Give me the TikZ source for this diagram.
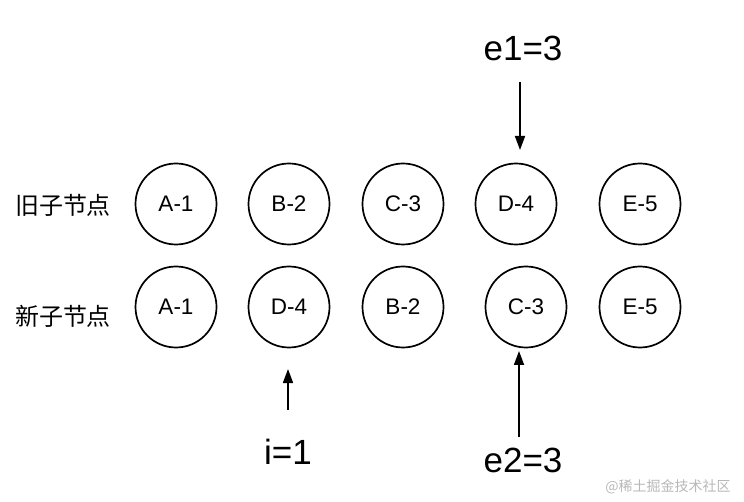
\documentclass[tikz,border=0pt]{standalone}
\usepackage{fontspec}
\setmainfont{Liberation Sans}
\newfontfamily\cjk{Noto Sans CJK SC}
\usetikzlibrary{arrows.meta}
\begin{document}
\begin{tikzpicture}[x=1pt,y=-1pt,
  nd/.style={circle,draw,line width=1.7pt,minimum size=81pt,inner sep=0pt,font=\fontsize{22.5}{22.5}\selectfont},
  lbl/.style={font=\fontsize{35}{35}\selectfont,inner sep=0pt},
  rowlbl/.style={font=\cjk\fontsize{24}{24}\selectfont,inner sep=0pt},
  arr/.style={line width=1.7pt,-{Triangle[length=14pt,width=10pt]}}]
\useasboundingbox (0,0) rectangle (744,502);
% row labels
\node[rowlbl] (old) at (63,205) {旧子节点};
\node[rowlbl] (new) at (63,316) {新子节点};
% old row
\node[nd] (oA) at (176,204) {A-1};
\node[nd] (oB) at (289,204) {B-2};
\node[nd] (oC) at (403,204) {C-3};
\node[nd] (oD) at (516,204) {D-4};
\node[nd] (oE) at (640,204) {E-5};
% new row
\node[nd] (nA) at (176,307) {A-1};
\node[nd] (nD) at (289,307) {D-4};
\node[nd] (nB) at (403,307) {B-2};
\node[nd] (nC) at (526,307) {C-3};
\node[nd] (nE) at (640,307) {E-5};
% labels
\node[lbl] (e1) at (523,48) {e1=3};
\node[lbl] (i) at (288,452) {i=1};
\node[lbl] (e2) at (523,460) {e2=3};
% arrows
\coordinate (e1s) at (520,82);
\coordinate (e1t) at (520,150);
\draw[arr] (e1s) -- (e1t);
\coordinate (is) at (288,410);
\coordinate (it) at (288,369);
\draw[arr] (is) -- (it);
\coordinate (e2s) at (519,437);
\coordinate (e2t) at (519,351);
\draw[arr] (e2s) -- (e2t);
% watermark
\node[font=\cjk\fontsize{14}{14}\selectfont,text=black!28,inner sep=0pt] (wm) at (668,487) {@稀土掘金技术社区};
\end{tikzpicture}
\end{document}
